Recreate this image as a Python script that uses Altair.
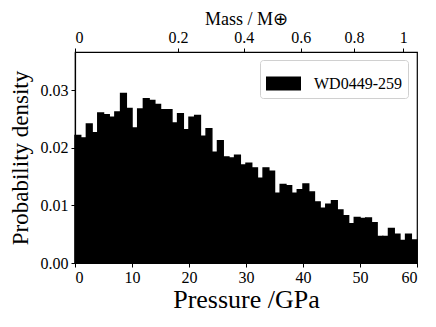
import altair as alt
import pandas as pd

bin_width = 1.0
density = [
    0.0221, 0.0217, 0.0241, 0.0226, 0.0260, 0.0257, 0.0253, 0.0262, 0.0294, 0.0268,
    0.0234, 0.0267, 0.0285, 0.0282, 0.0275, 0.0266, 0.0266, 0.0243, 0.0259, 0.0231,
    0.0253, 0.0256, 0.0220, 0.0233, 0.0192, 0.0212, 0.0184, 0.0182, 0.0187, 0.0170,
    0.0173, 0.0165, 0.0147, 0.0165, 0.0159, 0.0121, 0.0136, 0.0134, 0.0121, 0.0127,
    0.0137, 0.0123, 0.0106, 0.0095, 0.0102, 0.0108, 0.0092, 0.0082, 0.0068, 0.0079,
    0.0077, 0.0078, 0.0070, 0.0046, 0.0046, 0.0060, 0.0050, 0.0039, 0.0050, 0.0040,
]
bin_start = [i * bin_width for i in range(len(density))]
series_name = "WD0449-259"

mass_labels = ["0", "0.2", "0.4", "0.6", "0.8", "1"]
mass_tick_pressure = [0.0, 18.07, 29.6, 39.6, 48.95, 57.6]

df = pd.DataFrame({
    "start": bin_start,
    "end": [s + bin_width for s in bin_start],
    "density": density,
    "series": [series_name] * len(density),
})

FONT = "Liberation Serif"

bars = alt.Chart(df).mark_rect(color="black", stroke="black", strokeWidth=1.5).encode(
    x=alt.X("start:Q", scale=alt.Scale(domain=[0, 60], nice=False, zero=False),
            axis=alt.Axis(title="Pressure /GPa", values=[0, 10, 20, 30, 40, 50, 60],
                          titleFontSize=26, labelFontSize=16, titlePadding=1,
                          labelPadding=2, labelFont=FONT, titleFont=FONT)),
    x2="end:Q",
    y=alt.Y("density:Q", scale=alt.Scale(domain=[0, 0.0366], nice=False),
            axis=alt.Axis(title="Probability density", values=[0, 0.01, 0.02, 0.03],
                          format=".2f", titleFontSize=23, labelFontSize=16,
                          titlePadding=8, labelPadding=3, labelFont=FONT, titleFont=FONT)),
    color=alt.Color("series:N", scale=alt.Scale(range=["black"]),
                    legend=alt.Legend(title=None, orient="none", legendX=185, legendY=8,
                                      symbolType="M-1,-0.4H1V0.4H-1Z", symbolSize=1225,
                                      symbolStrokeWidth=0, labelFontSize=16,
                                      labelOffset=13, padding=6, labelFont=FONT,
                                      strokeColor="#d0d0d0", cornerRadius=3,
                                      fillColor="white")),
)

label_expr = "{}[indexof({}, datum.value)]".format(
    "[" + ",".join("'" + l + "'" for l in mass_labels) + "]",
    "[" + ",".join(str(v) for v in mass_tick_pressure) + "]",
)

top = alt.Chart(df).mark_point(opacity=0).encode(
    x=alt.X("start:Q", scale=alt.Scale(domain=[0, 60], nice=False, zero=False),
            axis=alt.Axis(orient="top", title="Mass / M\u2295", values=mass_tick_pressure,
                          labelExpr=label_expr, titleFontSize=18, labelFontSize=16,
                          titlePadding=1, labelPadding=3, labelFont=FONT, titleFont=FONT)),
)

chart = alt.layer(bars, top).resolve_scale(x="independent").properties(
    width=342, height=211,
    autosize=alt.AutoSizeParams(type="none"),
    padding={"left": 67, "top": 44, "right": 10, "bottom": 56},
).configure(font=FONT).configure_view(
    stroke="black", strokeWidth=1.2
).configure_axis(
    grid=False, domainColor="black", tickColor="black", labelColor="black",
    titleColor="black", titleFontWeight="normal", tickSize=4, domainWidth=1.2,
    labelFont=FONT, titleFont=FONT,
).configure_legend(labelFont=FONT, labelColor="black")

chart.save("out.html", embed_options={"renderer": "svg", "actions": False})
